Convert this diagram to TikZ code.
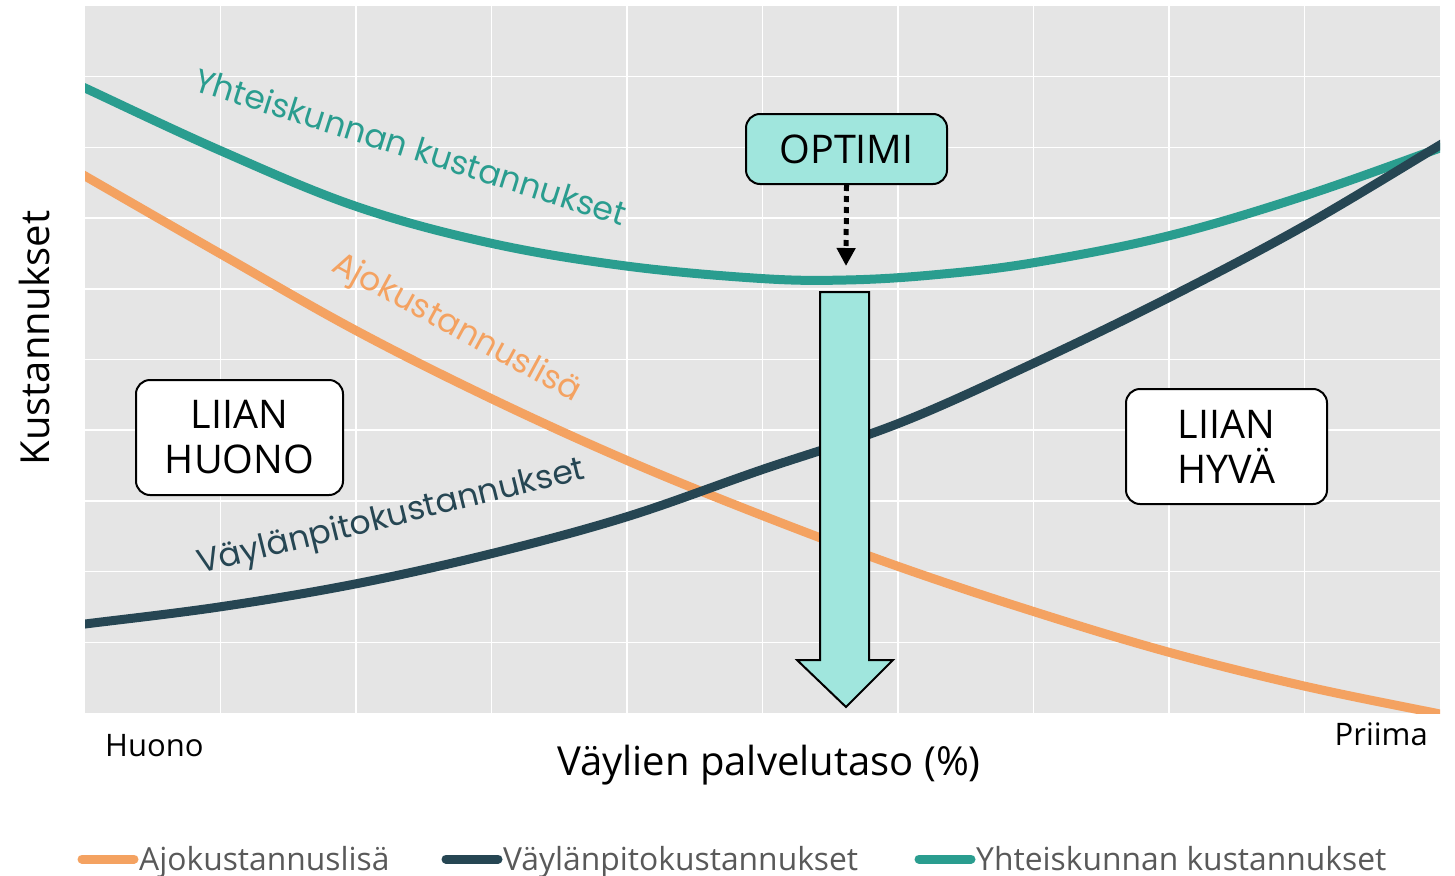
\documentclass[tikz,border=0pt]{standalone}
\usepackage{fontspec}
\setmainfont{Open Sans}
\newfontfamily\curvefont{Poppins}
\usetikzlibrary{arrows.meta}
\definecolor{ajo}{HTML}{F4A261}
\definecolor{vay}{HTML}{264653}
\definecolor{yht}{HTML}{2A9D8F}
\definecolor{opt}{HTML}{A0E6DD}
\definecolor{bgc}{HTML}{E5E5E5}
\definecolor{legc}{HTML}{595959}
\begin{document}
\begin{tikzpicture}[x=1pt,y=-1pt,
  curve/.style={line width=9pt},
  box/.style={draw=black,line width=2pt,rounded corners=14pt,align=center,inner sep=0pt,
    font=\fontsize{39.5}{45}\selectfont},
  curvelabel/.style={anchor=base west,inner sep=0pt,font=\curvefont\fontsize{33}{38}\selectfont},
  legline/.style={line width=9pt,line cap=round},
  legtext/.style={anchor=base west,inner sep=0pt,text=legc,font=\fontsize{31.8}{36}\selectfont}]
\useasboundingbox (0,0) rectangle (1455,875);
% plot panel
\fill[bgc] (85,6) rectangle (1440,713);
\foreach \i in {1,...,9} {
  \draw[white,line width=1.5pt] ({85+135.5*\i},6) -- ({85+135.5*\i},713);
  \draw[white,line width=1.5pt] (85,{6+70.7*\i}) -- (1440,{6+70.7*\i});
}
\begin{scope}
\clip (85,6) rectangle (1440,713);
\draw[curve,yht] plot[smooth,tension=0.6] coordinates {(80,86) (85,88) (219,150) (355,206) (490,243) (626,266) (761,278.5) (846,280) (932,275) (1032,263) (1168,236) (1304,196) (1440,148) (1450,144)};
\draw[curve,ajo] plot[smooth,tension=0.6] coordinates {(80,173) (85,176) (219,253) (355,330) (490,398) (626,460) (761,515) (897,566) (1032,611) (1168,652) (1304,686) (1440,714) (1450,716)};
\draw[curve,vay] plot[smooth,tension=0.6] coordinates {(80,625) (85,624) (219,607) (355,584) (490,554) (626,517) (761,470) (897,424) (1032,364) (1168,298) (1304,226) (1440,145) (1450,139)};
\end{scope}
% curve labels
\node[curvelabel,text=yht,rotate=-17.6] (lyht) at (192,90) {Yhteiskunnan kustannukset};
\node[curvelabel,text=ajo,rotate=-28.5] (lajo) at (330,270) {Ajokustannuslisä};
\node[curvelabel,text=vay,rotate=13.9] (lvay) at (200,574) {Väylänpitokustannukset};
% boxes
\node[box,fill=opt,minimum width=201pt,minimum height=70pt] (optimi) at (846.5,149) {OPTIMI};
\node[box,fill=white,minimum width=207pt,minimum height=115pt] (huono) at (239.5,437.5) {LIIAN\\HUONO};
\node[box,fill=white,minimum width=201pt,minimum height=115pt] (hyva) at (1226.5,446.5) {LIIAN\\HYVÄ};
\coordinate (optpt) at (846,266);
\draw[black,line width=5pt,dash pattern=on 6pt off 5pt,-{Triangle[width=18pt,length=18pt]}] (optimi.south) -- (optpt);
% big arrow
\draw[black,line width=2pt,fill=opt,line join=miter] (820,292) -- (869,292) -- (869,660) -- (893,660) -- (846,707) -- (797,660) -- (820,660) -- cycle;
% axis texts
\node[anchor=base west,inner sep=0pt,font=\fontsize{31}{36}\selectfont] (huonolab) at (105,756) {Huono};
\node[anchor=base east,inner sep=0pt,font=\fontsize{31}{36}\selectfont] (priima) at (1428,745) {Priima};
\node[anchor=base,inner sep=0pt,font=\fontsize{40}{46}\selectfont] (xtitle) at (769,775) {Väylien palvelutaso (\%)};
\node[rotate=90,inner sep=0pt,font=\fontsize{40}{46}\selectfont] (ytitle) at (34,338) {Kustannukset};
% legend
\draw[legline,ajo] (82,859) -- (134,859);
\node[legtext] (lg1) at (139,870) {Ajokustannuslisä};
\draw[legline,vay] (446,859) -- (498,859);
\node[legtext] (lg2) at (503,870) {Väylänpitokustannukset};
\draw[legline,yht] (919,859) -- (971,859);
\node[legtext] (lg3) at (976,870) {Yhteiskunnan kustannukset};
\end{tikzpicture}
\end{document}
